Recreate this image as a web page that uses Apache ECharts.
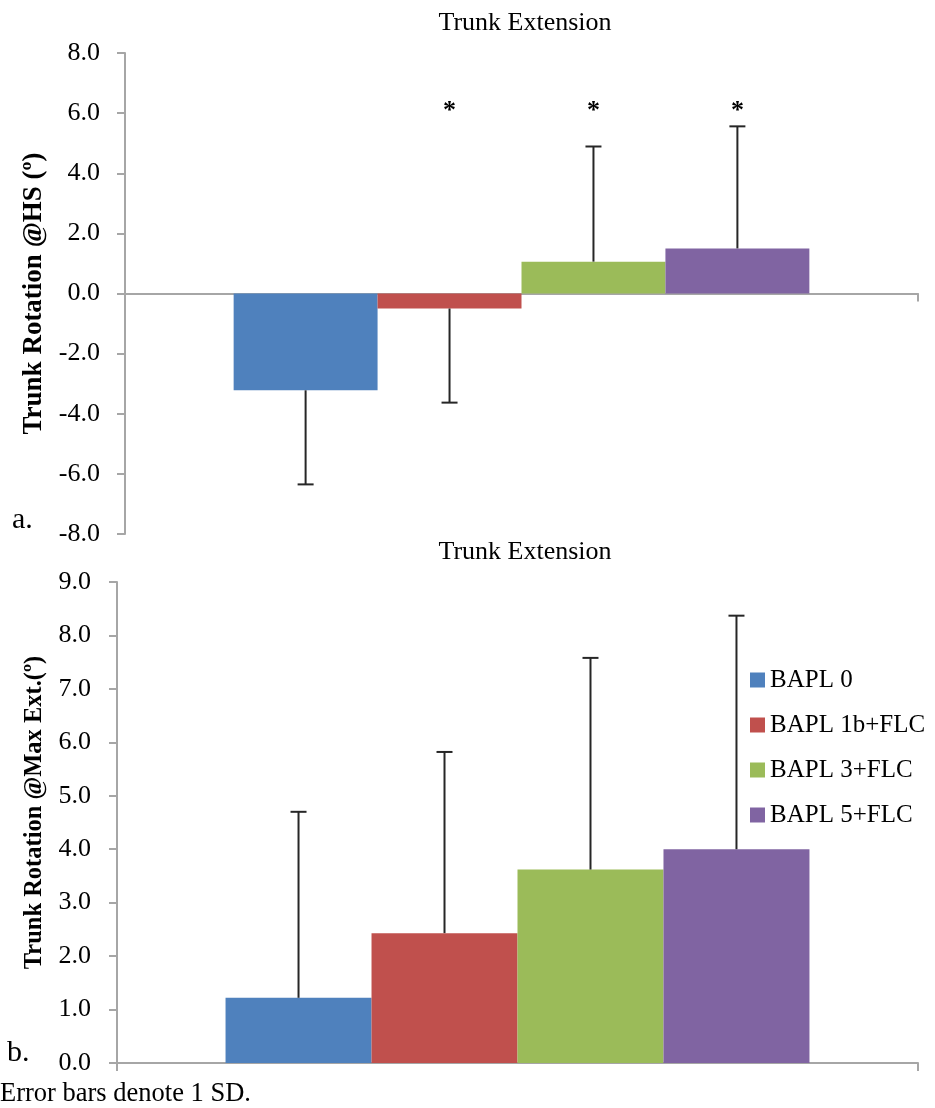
<!DOCTYPE html>
<html>
<head>
<meta charset="utf-8">
<script src="https://cdn.jsdelivr.net/npm/echarts@6/dist/echarts.min.js"></script>
<style>
html,body{margin:0;padding:0;background:#fff;}
#c{width:935px;height:1108px;}
</style>
</head>
<body>
<div id="c"></div>
<script>
// ---- data ----
const categories = ['Trunk Extension'];
const seriesNames = ['BAPL 0', 'BAPL 1b+FLC', 'BAPL 3+FLC', 'BAPL 5+FLC'];
// panel a: Trunk Rotation @HS
const hsMean = [-3.22, -0.50, 1.06, 1.50];
const hsSD = [3.13, 3.13, 3.83, 4.06];
const hsSig = [0, 1, 1, 1];
const hsStarLevel = 6.05;
const hsAxis = { min: -8, max: 8, interval: 2 };
// panel b: Trunk Rotation @Max Ext
const maxMean = [1.22, 2.43, 3.62, 4.00];
const maxSD = [3.48, 3.39, 3.96, 4.37];
const maxSig = [0, 0, 0, 0];
const maxAxis = { min: 0, max: 9, interval: 1 };

// ---- style ----
const colors = ['#4F81BD', '#C0504D', '#9BBB59', '#8064A2'];
const FONT = 'Liberation Serif, Times New Roman, serif';
const GAP_A = 0.274, GAP_B = 0.271;
const axisGray = '#A6A6A6';

function errRenderer(gap, starLevel) {
  return function (params, api) {
    const cat = api.value(0), mean = api.value(1), sd = api.value(2), idx = api.value(3), sig = api.value(4);
    const band = api.size([1, 0])[0];
    const bw = band * (1 - gap) / seriesNames.length;
    const cx = api.coord([cat, 0])[0] + (idx - (seriesNames.length - 1) / 2) * bw;
    const y0 = api.coord([cat, mean])[1];
    const y1 = api.coord([cat, mean + (mean < 0 ? -sd : sd)])[1];
    const st = { stroke: '#262626', lineWidth: 2 };
    const children = [
      { type: 'line', shape: { x1: cx, y1: y0, x2: cx, y2: y1 }, style: st },
      { type: 'line', shape: { x1: cx - 8, y1: y1, x2: cx + 8, y2: y1 }, style: st }
    ];
    if (sig) {
      const sy = api.coord([cat, starLevel])[1];
      children.push({ type: 'text', x: cx, y: sy, style: { text: '*', font: 'bold 26px ' + FONT, fill: '#000', align: 'center', verticalAlign: 'middle' } });
    }
    return { type: 'group', children: children };
  };
}

function barSeries(means, gi, gap) {
  return seriesNames.map((n, i) => ({
    type: 'bar', name: n, xAxisIndex: gi, yAxisIndex: gi,
    data: [means[i]], barGap: '0%', barCategoryGap: (gap * 100) + '%',
    itemStyle: { color: colors[i] }, animation: false
  }));
}
function errData(means, sds, sig) {
  return means.map((m, i) => [0, m, sds[i], i, sig[i]]);
}

const yAxisCommon = {
  type: 'value',
  splitLine: { show: false },
  axisLine: { show: true, lineStyle: { color: axisGray, width: 2 } },
  axisTick: { show: true, length: 8, lineStyle: { color: axisGray, width: 2 } },
  axisLabel: { formatter: v => v.toFixed(1), color: '#000', fontFamily: FONT, fontSize: 26 },
  nameLocation: 'middle', nameRotate: 90,
  nameTextStyle: { fontFamily: FONT, fontWeight: 'bold', color: '#000' }
};
const xAxisCommon = {
  type: 'category', data: categories,
  axisLine: { show: true, lineStyle: { color: axisGray, width: 2 } },
  axisTick: { show: true, length: 8, lineStyle: { color: axisGray, width: 2 } },
  axisLabel: { show: false }
};

const option = {
  animation: false,
  backgroundColor: '#fff',
  title: [
    { text: 'Trunk Extension', left: 520, top: 5, textAlign: 'center', textStyle: { fontFamily: FONT, fontSize: 26, fontWeight: 'normal', color: '#000' } },
    { text: 'Trunk Extension', left: 520, top: 534, textAlign: 'center', textStyle: { fontFamily: FONT, fontSize: 26, fontWeight: 'normal', color: '#000' } }
  ],
  legend: {
    data: seriesNames, orient: 'vertical', left: 750, top: 667,
    itemWidth: 15, itemHeight: 15, itemGap: 19, icon: 'rect', padding: 0,
    textStyle: { fontFamily: FONT, fontSize: 25, color: '#000', lineHeight: 26 }
  },
  grid: [
    { left: 125, top: 53, width: 793, height: 481 },
    { left: 117, top: 582, width: 801, height: 481 }
  ],
  xAxis: [
    Object.assign({}, xAxisCommon, { gridIndex: 0 }),
    Object.assign({}, xAxisCommon, { gridIndex: 1 })
  ],
  yAxis: [
    Object.assign({}, yAxisCommon, { gridIndex: 0, min: hsAxis.min, max: hsAxis.max, interval: hsAxis.interval,
      axisLabel: Object.assign({}, yAxisCommon.axisLabel, { margin: 25 }),
      name: 'Trunk Rotation @HS (º)', nameGap: 71,
      nameTextStyle: Object.assign({}, yAxisCommon.nameTextStyle, { fontSize: 27 }) }),
    Object.assign({}, yAxisCommon, { gridIndex: 1, min: maxAxis.min, max: maxAxis.max, interval: maxAxis.interval,
      axisLabel: Object.assign({}, yAxisCommon.axisLabel, { margin: 26 }),
      name: 'Trunk Rotation @Max Ext.(º)', nameGap: 67,
      nameTextStyle: Object.assign({}, yAxisCommon.nameTextStyle, { fontSize: 24.5, padding: [0, 0, 0, 20] }) })
  ],
  series: [].concat(
    barSeries(hsMean, 0, GAP_A),
    barSeries(maxMean, 1, GAP_B),
    [
      { type: 'custom', name: 'err-a', xAxisIndex: 0, yAxisIndex: 0, renderItem: errRenderer(GAP_A, hsStarLevel), data: errData(hsMean, hsSD, hsSig), encode: { x: 0, y: 1 }, z: 10, clip: false },
      { type: 'custom', name: 'err-b', xAxisIndex: 1, yAxisIndex: 1, renderItem: errRenderer(GAP_B, 0), data: errData(maxMean, maxSD, maxSig), encode: { x: 0, y: 1 }, z: 10, clip: false }
    ]
  ),
  graphic: [
    { type: 'text', left: 12, top: 505, style: { text: 'a.', font: '30px ' + FONT, fill: '#000' } },
    { type: 'text', left: 7, top: 1038, style: { text: 'b.', font: '30px ' + FONT, fill: '#000' } },
    { type: 'text', left: 0, top: 1081, style: { text: 'Error bars denote 1 SD.', font: '26.5px ' + FONT, fill: '#000' } }
  ]
};

const chart = echarts.init(document.getElementById('c'), null, { renderer: 'canvas' });
chart.setOption(option);
</script>
</body>
</html>
